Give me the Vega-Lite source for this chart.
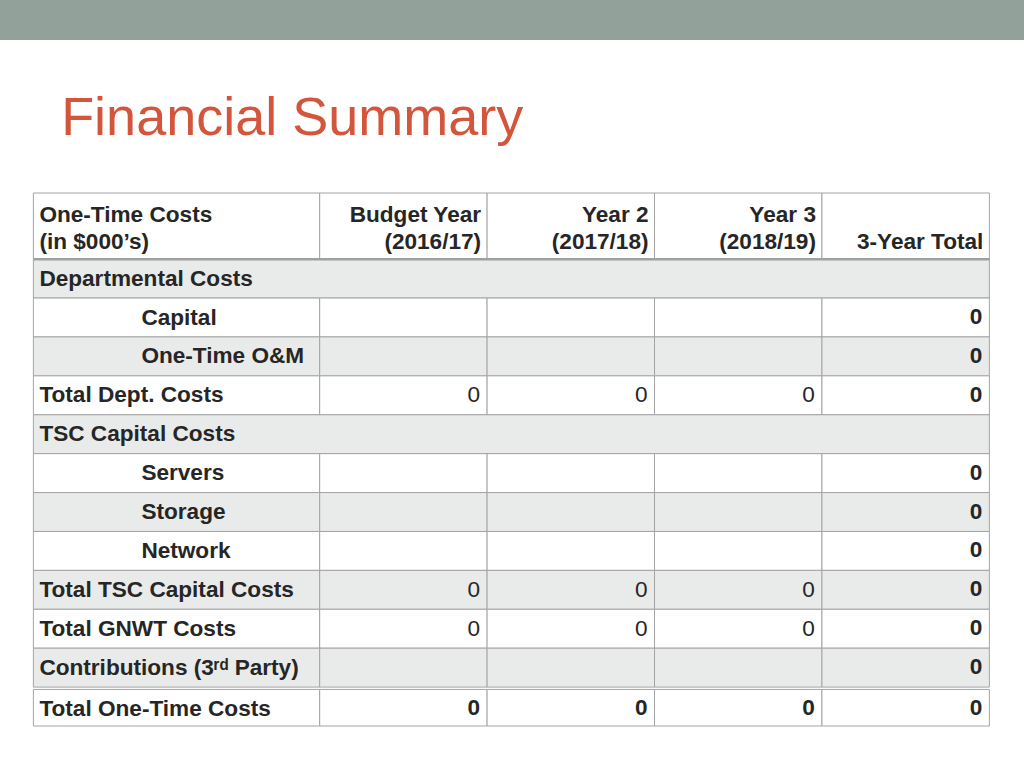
{
  "$schema": "https://vega.github.io/schema/vega-lite/v6.json",
  "padding": 0,
  "background": "white",
  "spacing": 51,
  "center": true,
  "config": {"view": {"stroke": null}, "text": {"font": "Liberation Sans"}, "title": {"font": "Liberation Sans"}},
  "datasets": {
    "rows": [
      {"row": "header", "top": 0, "bottom": 1.7, "band": "plain", "level": 0},
      {"row": "dept", "top": 1.7, "bottom": 2.7, "band": "shade", "level": 1},
      {"row": "capital", "top": 2.7, "bottom": 3.7, "band": "plain", "level": 2},
      {"row": "om", "top": 3.7, "bottom": 4.7, "band": "shade", "level": 2},
      {"row": "totdept", "top": 4.7, "bottom": 5.7, "band": "plain", "level": 1},
      {"row": "tsc", "top": 5.7, "bottom": 6.7, "band": "shade", "level": 1},
      {"row": "servers", "top": 6.7, "bottom": 7.7, "band": "plain", "level": 2},
      {"row": "storage", "top": 7.7, "bottom": 8.7, "band": "shade", "level": 2},
      {"row": "network", "top": 8.7, "bottom": 9.7, "band": "plain", "level": 2},
      {"row": "tottsc", "top": 9.7, "bottom": 10.7, "band": "shade", "level": 1},
      {"row": "gnwt", "top": 10.7, "bottom": 11.7, "band": "plain", "level": 1},
      {"row": "contrib", "top": 11.7, "bottom": 12.7, "band": "shade", "level": 1},
      {"row": "total", "top": 12.76, "bottom": 13.7, "band": "plain", "level": 1}
    ],
    "columns": [
      {"col": "label", "left": 0, "right": 1.71},
      {"col": "y1", "left": 1.71, "right": 2.71},
      {"col": "y2", "left": 2.71, "right": 3.71},
      {"col": "y3", "left": 3.71, "right": 4.71},
      {"col": "total", "left": 4.71, "right": 5.71},
      {"col": "span", "left": 0, "right": 5.71}
    ],
    "cells": [
      {"row": "header", "col": "label", "text": "One-Time Costs\n(in $000’s)", "value": null},
      {"row": "header", "col": "y1", "text": "Budget Year\n(2016/17)", "value": null},
      {"row": "header", "col": "y2", "text": "Year 2\n(2017/18)", "value": null},
      {"row": "header", "col": "y3", "text": "Year 3\n(2018/19)", "value": null},
      {"row": "header", "col": "total", "text": " \n3-Year Total", "value": null},
      {"row": "dept", "col": "span", "text": "Departmental Costs", "value": null},
      {"row": "capital", "col": "label", "text": "Capital", "value": null},
      {"row": "capital", "col": "y1", "text": null, "value": null},
      {"row": "capital", "col": "y2", "text": null, "value": null},
      {"row": "capital", "col": "y3", "text": null, "value": null},
      {"row": "capital", "col": "total", "text": null, "value": 0},
      {"row": "om", "col": "label", "text": "One-Time O&M", "value": null},
      {"row": "om", "col": "y1", "text": null, "value": null},
      {"row": "om", "col": "y2", "text": null, "value": null},
      {"row": "om", "col": "y3", "text": null, "value": null},
      {"row": "om", "col": "total", "text": null, "value": 0},
      {"row": "totdept", "col": "label", "text": "Total Dept. Costs", "value": null},
      {"row": "totdept", "col": "y1", "text": null, "value": 0},
      {"row": "totdept", "col": "y2", "text": null, "value": 0},
      {"row": "totdept", "col": "y3", "text": null, "value": 0},
      {"row": "totdept", "col": "total", "text": null, "value": 0},
      {"row": "tsc", "col": "span", "text": "TSC Capital Costs", "value": null},
      {"row": "servers", "col": "label", "text": "Servers", "value": null},
      {"row": "servers", "col": "y1", "text": null, "value": null},
      {"row": "servers", "col": "y2", "text": null, "value": null},
      {"row": "servers", "col": "y3", "text": null, "value": null},
      {"row": "servers", "col": "total", "text": null, "value": 0},
      {"row": "storage", "col": "label", "text": "Storage", "value": null},
      {"row": "storage", "col": "y1", "text": null, "value": null},
      {"row": "storage", "col": "y2", "text": null, "value": null},
      {"row": "storage", "col": "y3", "text": null, "value": null},
      {"row": "storage", "col": "total", "text": null, "value": 0},
      {"row": "network", "col": "label", "text": "Network", "value": null},
      {"row": "network", "col": "y1", "text": null, "value": null},
      {"row": "network", "col": "y2", "text": null, "value": null},
      {"row": "network", "col": "y3", "text": null, "value": null},
      {"row": "network", "col": "total", "text": null, "value": 0},
      {"row": "tottsc", "col": "label", "text": "Total TSC Capital Costs", "value": null},
      {"row": "tottsc", "col": "y1", "text": null, "value": 0},
      {"row": "tottsc", "col": "y2", "text": null, "value": 0},
      {"row": "tottsc", "col": "y3", "text": null, "value": 0},
      {"row": "tottsc", "col": "total", "text": null, "value": 0},
      {"row": "gnwt", "col": "label", "text": "Total GNWT Costs", "value": null},
      {"row": "gnwt", "col": "y1", "text": null, "value": 0},
      {"row": "gnwt", "col": "y2", "text": null, "value": 0},
      {"row": "gnwt", "col": "y3", "text": null, "value": 0},
      {"row": "gnwt", "col": "total", "text": null, "value": 0},
      {"row": "contrib", "col": "label", "text": "Contributions (3ʳᵈ Party)", "value": null},
      {"row": "contrib", "col": "y1", "text": null, "value": null},
      {"row": "contrib", "col": "y2", "text": null, "value": null},
      {"row": "contrib", "col": "y3", "text": null, "value": null},
      {"row": "contrib", "col": "total", "text": null, "value": 0},
      {"row": "total", "col": "label", "text": "Total One-Time Costs", "value": null},
      {"row": "total", "col": "y1", "text": null, "value": 0},
      {"row": "total", "col": "y2", "text": null, "value": 0},
      {"row": "total", "col": "y3", "text": null, "value": 0},
      {"row": "total", "col": "total", "text": null, "value": 0}
    ]
  },
  "vconcat": [
    {
      "width": 1024,
      "height": 40,
      "data": {"values": [{"part": "banner"}]},
      "mark": {"type": "rect", "color": "#92A199"},
      "encoding": {}
    },
    {
      "width": 956,
      "height": 533,
      "title": {
        "text": "Financial Summary",
        "anchor": "start",
        "fontSize": 54,
        "fontWeight": "normal",
        "color": "#D2553C",
        "dx": 29,
        "offset": 47
      },
      "data": {"name": "cells"},
      "transform": [
        {"lookup": "row", "from": {"data": {"name": "rows"}, "key": "row", "fields": ["top", "bottom", "band", "level"]}},
        {"lookup": "col", "from": {"data": {"name": "columns"}, "key": "col", "fields": ["left", "right"]}}
      ],
      "layer": [
        {
          "mark": {"type": "rect", "stroke": "#a4a4a4", "strokeWidth": 1},
          "encoding": {
            "x": {"field": "left", "type": "quantitative", "scale": {"domain": [0, 5.71], "nice": false, "zero": false}, "axis": null},
            "x2": {"field": "right"},
            "y": {"field": "top", "type": "quantitative", "scale": {"domain": [0, 13.7], "reverse": true, "nice": false, "zero": false}, "axis": null},
            "y2": {"field": "bottom"},
            "fill": {"field": "band", "type": "nominal", "scale": {"domain": ["plain", "shade"], "range": ["#ffffff", "#e9ebea"]}, "legend": null}
          }
        },
        {
          "transform": [{"filter": "datum.row == 'header' && datum.col == 'label'"}],
          "mark": {"type": "rule", "color": "#a0a0a0", "strokeWidth": 2.5},
          "encoding": {
            "y": {"field": "bottom", "type": "quantitative", "axis": null}
          }
        },
        {
          "transform": [{"filter": "(datum.col == 'label' || datum.col == 'span') && datum.level == 1"}],
          "mark": {"type": "text", "align": "left", "baseline": "middle", "dx": 6, "dy": 19.5, "fontSize": 22.6, "fontWeight": "bold", "color": "#262626"},
          "encoding": {
            "x": {"field": "left", "type": "quantitative", "axis": null},
            "y": {"field": "top", "type": "quantitative", "axis": null},
            "text": {"field": "text", "type": "nominal"}
          }
        },
        {
          "transform": [{"filter": "datum.col == 'label' && datum.level == 2"}],
          "mark": {"type": "text", "align": "left", "baseline": "middle", "dx": 108, "dy": 19.5, "fontSize": 22.6, "fontWeight": "bold", "color": "#262626"},
          "encoding": {
            "x": {"field": "left", "type": "quantitative", "axis": null},
            "y": {"field": "top", "type": "quantitative", "axis": null},
            "text": {"field": "text", "type": "nominal"}
          }
        },
        {
          "transform": [{"filter": "datum.row == 'header' && datum.col == 'label'"}],
          "mark": {"type": "text", "align": "left", "baseline": "bottom", "dx": 6, "dy": -32, "lineBreak": "\n", "lineHeight": 27, "fontSize": 22.6, "fontWeight": "bold", "color": "#262626"},
          "encoding": {
            "x": {"field": "left", "type": "quantitative", "axis": null},
            "y": {"field": "bottom", "type": "quantitative", "axis": null},
            "text": {"field": "text", "type": "nominal"}
          }
        },
        {
          "transform": [{"filter": "datum.row == 'header' && datum.col != 'label'"}],
          "mark": {"type": "text", "align": "right", "baseline": "bottom", "dx": -6, "dy": -32, "lineBreak": "\n", "lineHeight": 27, "fontSize": 22.6, "fontWeight": "bold", "color": "#262626"},
          "encoding": {
            "x": {"field": "right", "type": "quantitative", "axis": null},
            "y": {"field": "bottom", "type": "quantitative", "axis": null},
            "text": {"field": "text", "type": "nominal"}
          }
        },
        {
          "transform": [{"filter": "datum.value != null && datum.col != 'total' && indexof(['totdept', 'tottsc', 'gnwt'], datum.row) >= 0"}],
          "mark": {"type": "text", "align": "right", "baseline": "middle", "dx": -7, "dy": 19.5, "fontSize": 22.6, "fontWeight": "normal", "color": "#262626"},
          "encoding": {
            "x": {"field": "right", "type": "quantitative", "axis": null},
            "y": {"field": "top", "type": "quantitative", "axis": null},
            "text": {"field": "value", "type": "quantitative"}
          }
        },
        {
          "transform": [{"filter": "datum.value != null && !(datum.col != 'total' && indexof(['totdept', 'tottsc', 'gnwt'], datum.row) >= 0)"}],
          "mark": {"type": "text", "align": "right", "baseline": "middle", "dx": -7, "dy": 19, "fontSize": 22.6, "fontWeight": "bold", "color": "#262626"},
          "encoding": {
            "x": {"field": "right", "type": "quantitative", "axis": null},
            "y": {"field": "top", "type": "quantitative", "axis": null},
            "text": {"field": "value", "type": "quantitative"}
          }
        }
      ]
    }
  ]
}
